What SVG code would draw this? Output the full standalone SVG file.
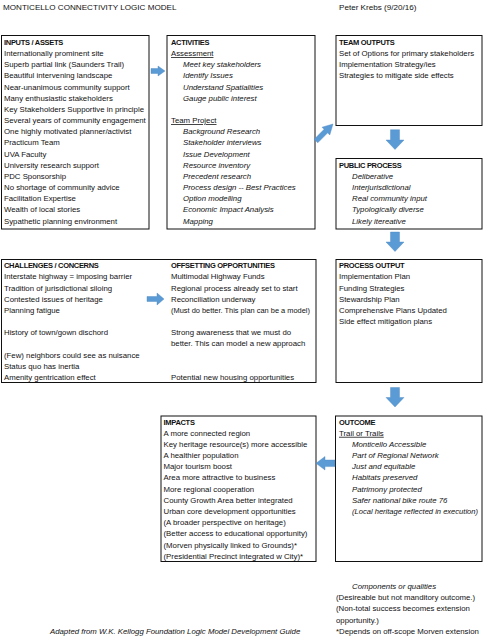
<svg xmlns="http://www.w3.org/2000/svg" width="483" height="640" viewBox="0 0 483 640">
<style>
text{font-family:"Liberation Sans",Arial,sans-serif;font-size:7.8px;fill:#111}
.h{font-weight:bold;font-size:7.5px;letter-spacing:-0.3px}
.i{font-style:italic}
.u{text-decoration:underline}
.t{font-size:8.1px}
.box{fill:#fff;stroke:#111;stroke-width:1}
.arr{fill:#5B9BD5;stroke:#4A86C0;stroke-width:0.4}
</style>
<rect width="483" height="640" fill="#fff"/>
<g id="header">
<text class="t" x="3" y="9.5">MONTICELLO CONNECTIVITY LOGIC MODEL</text>
<text class="t" x="339" y="9.5">Peter Krebs (9/20/16)</text>
</g>
<g id="inputs">
<rect class="box" x="1.5" y="35.5" width="147.5" height="193.5"/>
<text x="4" y="44.8" class="h">INPUTS / ASSETS</text>
<text x="4" y="56">Internationally prominent site</text>
<text x="4" y="67.1">Superb partial link (Saunders Trail)</text>
<text x="4" y="78.3">Beautiful intervening landscape</text>
<text x="4" y="89.5">Near-unanimous community support</text>
<text x="4" y="100.7">Many enthusiastic stakeholders</text>
<text x="4" y="111.8">Key Stakeholders Supportive in principle</text>
<text x="4" y="123">Several years of community engagement</text>
<text x="4" y="134.2">One highly motivated planner/activist</text>
<text x="4" y="145.3">Practicum Team</text>
<text x="4" y="156.5">UVA Faculty</text>
<text x="4" y="167.7">University research support</text>
<text x="4" y="178.8">PDC Sponsorship</text>
<text x="4" y="190">No shortage of community advice</text>
<text x="4" y="201.2">Facilitation Expertise</text>
<text x="4" y="212.4">Wealth of local stories</text>
<text x="4" y="223.5">Sypathetic planning environment</text>
</g>
<g id="activities">
<rect class="box" x="167" y="35.5" width="148" height="193.5"/>
<text x="171" y="44.8" class="h">ACTIVITIES</text>
<text x="171" y="56" class="u">Assessment</text>
<text x="183" y="67.1" class="i">Meet key stakeholders</text>
<text x="183" y="78.3" class="i">Identify Issues</text>
<text x="183" y="89.5" class="i">Understand Spatialities</text>
<text x="183" y="100.7" class="i">Gauge public interest</text>
<text x="171" y="123" class="u">Team Project</text>
<text x="183" y="134.2" class="i">Background Research</text>
<text x="183" y="145.3" class="i">Stakeholder interviews</text>
<text x="183" y="156.5" class="i">Issue Development</text>
<text x="183" y="167.7" class="i">Resource inventory</text>
<text x="183" y="178.8" class="i">Precedent research</text>
<text x="183" y="190" class="i">Process design -- Best Practices</text>
<text x="183" y="201.2" class="i">Option modelling</text>
<text x="183" y="212.4" class="i">Economic Impact Analysis</text>
<text x="183" y="223.5" class="i">Mapping</text>
</g>
<g id="team-outputs">
<rect class="box" x="336" y="35.5" width="146" height="90"/>
<text x="339" y="44.8" class="h">TEAM OUTPUTS</text>
<text x="339" y="56">Set of Options for primary stakeholders</text>
<text x="339" y="67.1">Implementation Strategy/ies</text>
<text x="339" y="78.3">Strategies to mitigate side effects</text>
</g>
<g id="public-process">
<rect class="box" x="336" y="158.5" width="146" height="70.5"/>
<text x="339" y="167.7" class="h">PUBLIC PROCESS</text>
<text x="352" y="178.8" class="i">Deliberative</text>
<text x="352" y="190" class="i">Interjurisdictional</text>
<text x="352" y="201.2" class="i">Real community input</text>
<text x="352" y="212.4" class="i">Typologically diverse</text>
<text x="352" y="223.5" class="i">Likely itereative</text>
</g>
<g id="challenges-offsetting">
<rect class="box" x="1.5" y="259.5" width="314.5" height="123"/>
<text x="4" y="268.2" class="h">CHALLENGES / CONCERNS</text>
<text x="4" y="279.4">Interstate highway = imposing barrier</text>
<text x="4" y="290.5">Tradition of jurisdictional siloing</text>
<text x="4" y="301.7">Contested issues of heritage</text>
<text x="4" y="312.9">Planning fatigue</text>
<text x="4" y="335.2">History of town/gown dischord</text>
<text x="4" y="357.6">(Few) neighbors could see as nuisance</text>
<text x="4" y="368.7">Status quo has inertia</text>
<text x="4" y="379.9">Amenity gentrication effect</text>
<text x="171" y="268.2" class="h">OFFSETTING OPPORTUNITIES</text>
<text x="171" y="279.4">Multimodal Highway Funds</text>
<text x="171" y="290.5">Regional process already set to start</text>
<text x="171" y="301.7">Reconciliation underway</text>
<text x="171" y="312.9" textLength="139" lengthAdjust="spacingAndGlyphs">(Must do better. This plan can be a model)</text>
<text x="171" y="335.2">Strong awareness that we must do</text>
<text x="171" y="346.4">better. This can model a new approach</text>
<text x="171" y="379.9">Potential new housing opportunities</text>
</g>
<g id="process-output">
<rect class="box" x="336" y="259.5" width="146" height="123"/>
<text x="339" y="268.2" class="h">PROCESS OUTPUT</text>
<text x="339" y="279.4">Implementation Plan</text>
<text x="339" y="290.5">Funding Strategies</text>
<text x="339" y="301.7">Stewardship Plan</text>
<text x="339" y="312.9">Comprehensive Plans Updated</text>
<text x="339" y="324">Side effect mitigation plans</text>
</g>
<g id="impacts">
<rect class="box" x="161" y="416" width="155" height="145.5"/>
<text x="163.5" y="424.6" class="h">IMPACTS</text>
<text x="163.5" y="435.8">A more connected region</text>
<text x="163.5" y="446.9">Key heritage resource(s) more accessible</text>
<text x="163.5" y="458.1">A healthier population</text>
<text x="163.5" y="469.3">Major tourism boost</text>
<text x="163.5" y="480.4">Area more attractive to business</text>
<text x="163.5" y="491.6">More regional cooperation</text>
<text x="163.5" y="502.8">County Growth Area better integrated</text>
<text x="163.5" y="514">Urban core development opportunities</text>
<text x="163.5" y="525.1">(A broader perspective on heritage)</text>
<text x="163.5" y="536.3">(Better access to educational opportunity)</text>
<text x="163.5" y="547.5">(Morven physically linked to Grounds)*</text>
<text x="163.5" y="558.6">(Presidential Precinct integrated w City)*</text>
</g>
<g id="outcome">
<rect class="box" x="335.5" y="416" width="146.5" height="145.5"/>
<text x="339" y="424.6" class="h">OUTCOME</text>
<text x="339" y="435.8" class="u">Trail or Trails</text>
<text x="352" y="446.9" class="i">Monticello Accessible</text>
<text x="352" y="458.1" class="i">Part of Regional Network</text>
<text x="352" y="469.3" class="i">Just and equitable</text>
<text x="352" y="480.4" class="i">Habitats preserved</text>
<text x="352" y="491.6" class="i">Patrimony protected</text>
<text x="352" y="502.8" class="i">Safer national bike route 76</text>
<text x="352" y="514" class="i" textLength="126" lengthAdjust="spacingAndGlyphs">(Local heritage reflected in execution)</text>
</g>
<g id="notes">
<text x="352" y="589" class="i">Components or qualities</text>
<text x="336" y="600.2">(Desireable but not manditory outcome.)</text>
<text x="336" y="611.4">(Non-total success becomes extension</text>
<text x="336" y="622.5">opportunity.)</text>
<text x="336" y="633.7">*Depends on off-scope Morven extension</text>
<text x="50" y="633.7" class="i">Adapted from W.K. Kellogg Foundation Logic Model Development Guide</text>
</g>
<g id="connectors">
<polygon class="arr" points="151,68.5 158,68.5 158,66 165,71 158,76 158,73.5 151,73.5"/>
<polygon class="arr" points="147,296.5 157,296.5 157,293 164,299 157,305 157,301.5 147,301.5"/>
<polygon class="arr" transform="translate(316,141) rotate(-45)" points="0,-2.5 14,-2.5 14,-5.5 24,0 14,5.5 14,2.5 0,2.5"/>
<polygon class="arr" points="390.5,129.7 399.5,129.7 399.5,140 404,140 395,149.5 386,140 390.5,140"/>
<polygon class="arr" points="390.5,232 399.5,232 399.5,242 404,242 395,251.5 386,242 390.5,242"/>
<polygon class="arr" points="390.5,387.5 399.5,387.5 399.5,397.5 404,397.5 395,407 386,397.5 390.5,397.5"/>
<polygon class="arr" points="335,460 325,460 325,456.5 316,463.3 325,470 325,466.6 335,466.6"/>
</g>
</svg>
